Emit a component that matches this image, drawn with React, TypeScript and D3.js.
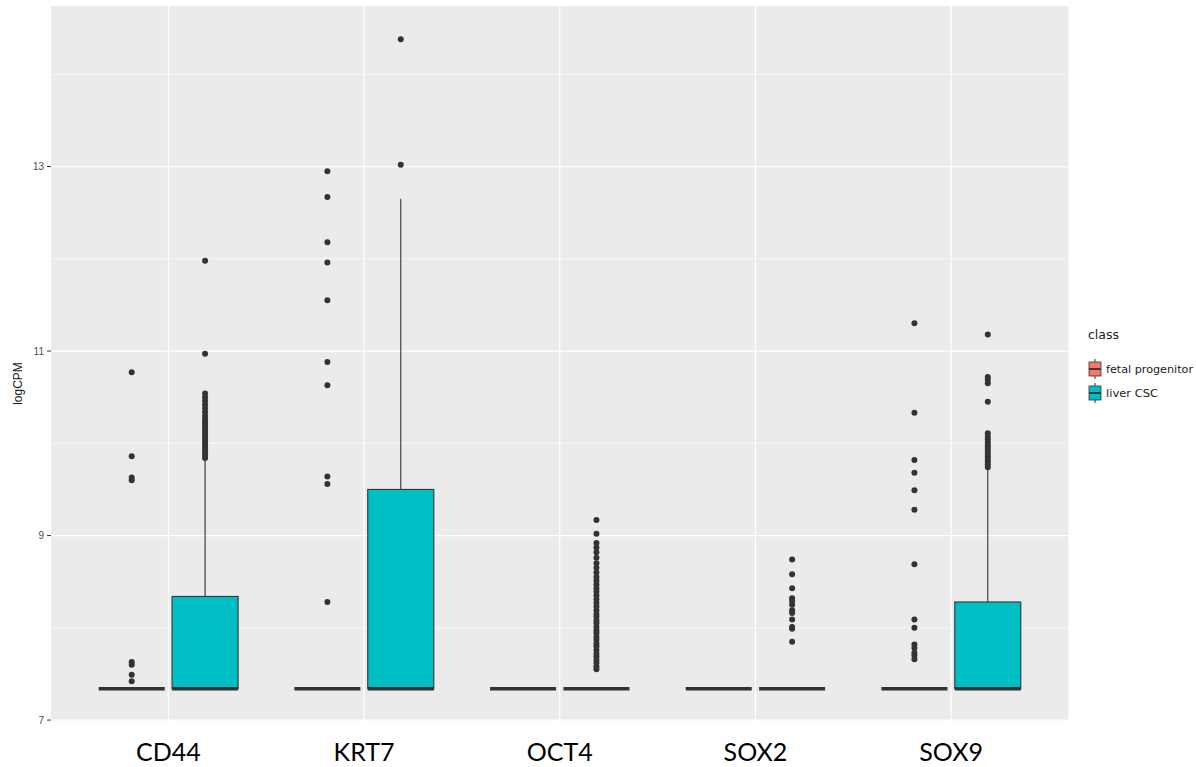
import React from 'react';
import * as d3 from 'd3';

const W = 1196, H = 767;
const PANEL = { left: 51, right: 1068.5, top: 6, bottom: 721 };

const genes = ['CD44', 'KRT7', 'OCT4', 'SOX2', 'SOX9'];
const classes = ['fetal progenitor', 'liver CSC'];
const classColors = ['#F8766D', '#00BFC4'];

const majorTicks = [7, 9, 11, 13];
const minorTicks = [8, 10, 12, 14];

// box stats per gene, fetal progenitor
const fetalQ1 = [7.34, 7.34, 7.34, 7.34, 7.34];
const fetalMedian = [7.34, 7.34, 7.34, 7.34, 7.34];
const fetalQ3 = [7.34, 7.34, 7.34, 7.34, 7.34];
const fetalUpper = [7.34, 7.34, 7.34, 7.34, 7.34];

// box stats per gene, liver CSC
const liverQ1 = [7.34, 7.34, 7.34, 7.34, 7.34];
const liverMedian = [7.34, 7.34, 7.34, 7.34, 7.34];
const liverQ3 = [8.34, 9.5, 7.34, 7.34, 8.28];
const liverUpper = [9.82, 12.65, 7.34, 7.34, 9.73];

const fetalOutliers = [
  [7.42, 7.49, 7.6, 7.63, 9.6, 9.63, 9.86, 10.77],
  [8.28, 9.56, 9.64, 10.63, 10.88, 11.55, 11.96, 12.18, 12.67, 12.95],
  [],
  [],
  [7.66, 7.7, 7.73, 7.78, 7.82, 8.0, 8.09, 8.69, 9.28, 9.49, 9.68, 9.82, 10.33, 11.3],
];

const liverOutliers = [
  [9.84, 9.87, 9.9, 9.93, 9.96, 9.99, 10.02, 10.05, 10.08, 10.11, 10.14, 10.17, 10.2, 10.23,
    10.26, 10.3, 10.34, 10.38, 10.42, 10.46, 10.5, 10.54, 10.97, 11.98],
  [13.02, 14.38],
  [7.55, 7.58, 7.62, 7.65, 7.69, 7.72, 7.76, 7.8, 7.83, 7.87, 7.9, 7.94, 7.97, 8.01, 8.05,
    8.08, 8.12, 8.15, 8.19, 8.23, 8.27, 8.31, 8.35, 8.39, 8.43, 8.47, 8.51, 8.55, 8.6, 8.65,
    8.7, 8.76, 8.82, 8.87, 8.92, 9.02, 9.17],
  [7.85, 7.99, 8.01, 8.09, 8.16, 8.19, 8.25, 8.29, 8.32, 8.43, 8.58, 8.74],
  [9.74, 9.77, 9.8, 9.83, 9.86, 9.89, 9.92, 9.95, 9.98, 10.01, 10.04, 10.07, 10.11, 10.45,
    10.65, 10.69, 10.72, 11.18],
];

const x = d3.scalePoint<string>().domain(genes).range([PANEL.left, PANEL.right]).padding(0.6);
const step = x.step();
const dodge = d3.scaleBand<string>().domain(classes).range([-step * 0.375, step * 0.375]);
const boxW = dodge.bandwidth() * 0.9;
const y = d3.scaleLinear().domain([6.99, 14.74]).range([PANEL.bottom, PANEL.top]);

const statsFor = (ci: number) =>
  ci === 0
    ? { q1: fetalQ1, med: fetalMedian, q3: fetalQ3, up: fetalUpper, out: fetalOutliers }
    : { q1: liverQ1, med: liverMedian, q3: liverQ3, up: liverUpper, out: liverOutliers };

function Box({ gi, ci }: { gi: number; ci: number }) {
  const s = statsFor(ci);
  const cx = (x(genes[gi]) as number) + (dodge(classes[ci]) as number) + dodge.bandwidth() / 2;
  const x0 = cx - boxW / 2;
  return (
    <g>
      {s.up[gi] > s.q3[gi] && (
        <line x1={cx} x2={cx} y1={y(s.q3[gi])} y2={y(s.up[gi])} stroke="#333333" strokeWidth={1.1} />
      )}
      <rect x={x0} y={y(s.q3[gi])} width={boxW} height={Math.max(0, y(s.q1[gi]) - y(s.q3[gi]))}
        fill={classColors[ci]} stroke="#333333" strokeWidth={1.1} />
      <line x1={x0} x2={x0 + boxW} y1={y(s.med[gi])} y2={y(s.med[gi])} stroke="#333333" strokeWidth={3.4} />
      {s.out[gi].map((v, i) => (
        <circle key={i} cx={cx} cy={y(v)} r={3} fill="#333333" />
      ))}
    </g>
  );
}

export default function App() {
  const pw = PANEL.right - PANEL.left;
  return (
    <svg width={W} height={H} style={{ display: 'block', position: 'absolute', left: 0, top: 0 }}
      fontFamily="'Liberation Sans', Arial, sans-serif">
      <rect width={W} height={H} fill="#ffffff" />
      <rect x={PANEL.left} y={PANEL.top} width={pw} height={PANEL.bottom - PANEL.top} fill="#EBEBEB" />
      {minorTicks.map(t => (
        <line key={'mi' + t} x1={PANEL.left} x2={PANEL.right} y1={y(t)} y2={y(t)} stroke="#ffffff" strokeWidth={0.6} />
      ))}
      {majorTicks.map(t => (
        <line key={'ma' + t} x1={PANEL.left} x2={PANEL.right} y1={y(t)} y2={y(t)} stroke="#ffffff" strokeWidth={1.2} />
      ))}
      {genes.map(g => (
        <line key={'vg' + g} x1={x(g)} x2={x(g)} y1={PANEL.top} y2={PANEL.bottom} stroke="#ffffff" strokeWidth={1.2} />
      ))}
      {genes.map((g, gi) => classes.map((c, ci) => <Box key={g + c} gi={gi} ci={ci} />))}

      {/* y axis */}
      {majorTicks.map(t => (
        <g key={'yt' + t}>
          <line x1={PANEL.left - 4} x2={PANEL.left} y1={y(t)} y2={y(t)} stroke="#333333" strokeWidth={1} />
          <text x={PANEL.left - 7} y={y(t)} dy="0.35em" textAnchor="end" fontSize={10} fill="#4D4D4D">{t}</text>
        </g>
      ))}
      <text transform={`translate(22,${(PANEL.top + PANEL.bottom) / 2 + 20}) rotate(-90)`} textAnchor="middle"
        fontSize={12} fill="#1a1a1a">logCPM</text>

      {/* x labels */}
      {genes.map(g => (
        <text key={'xl' + g} x={x(g)} y={761} textAnchor="middle" fontSize={25} fill="#000000"
          fontFamily="Lato, 'Open Sans', sans-serif">{g}</text>
      ))}

      {/* legend */}
      <text x={1088} y={339} fontSize={13} fill="#1a1a1a" fontFamily="'DejaVu Sans Condensed', 'DejaVu Sans', sans-serif"
        textLength={31} lengthAdjust="spacingAndGlyphs">class</text>
      {classes.map((c, i) => {
        const ky = 369 + i * 24;
        return (
          <g key={'lg' + c}>
            <line x1={1095} x2={1095} y1={ky - 10} y2={ky + 10} stroke="#333333" strokeWidth={1} />
            <rect x={1089} y={ky - 7} width={12} height={14} fill={classColors[i]} stroke="#333333" strokeWidth={0.8} />
            <line x1={1089} x2={1101} y1={ky} y2={ky} stroke="#333333" strokeWidth={1.8} />
            <text x={1106} y={ky} dy="0.35em" fontSize={11} fill="#1a1a1a"
              fontFamily="'DejaVu Sans Condensed', 'DejaVu Sans', sans-serif"
              textLength={i === 0 ? 87 : 52} lengthAdjust="spacingAndGlyphs">{c}</text>
          </g>
        );
      })}
    </svg>
  );
}
